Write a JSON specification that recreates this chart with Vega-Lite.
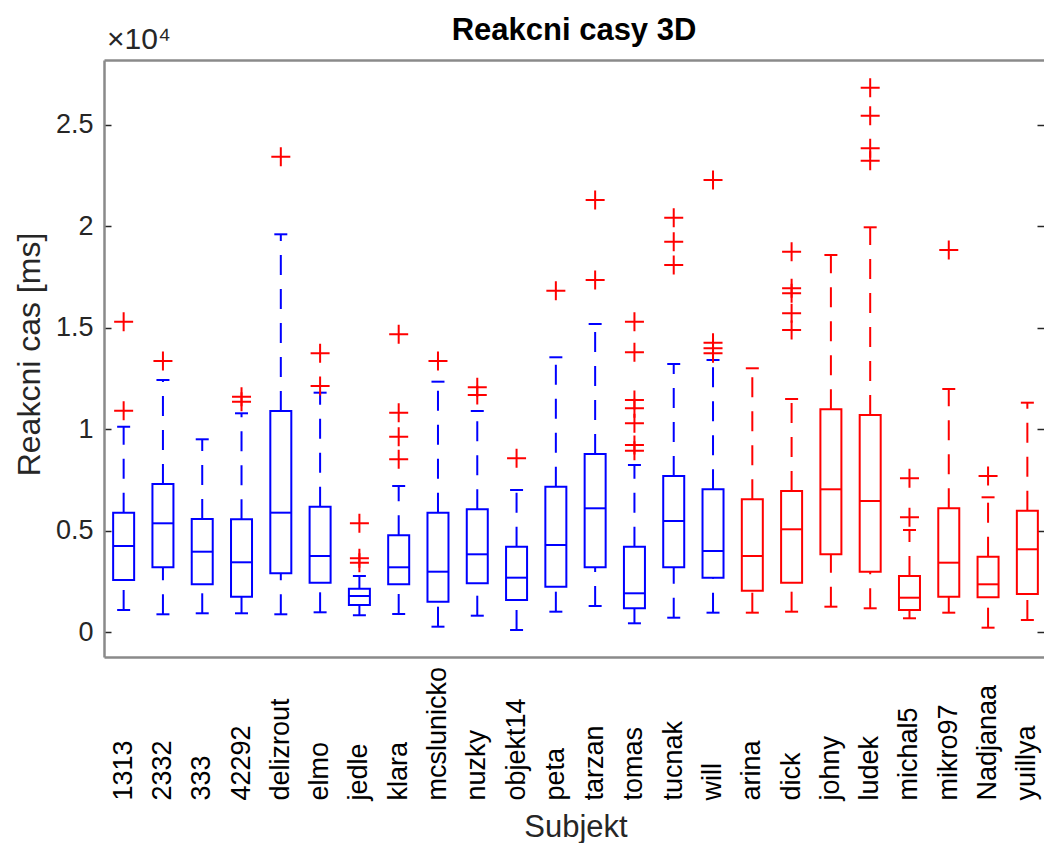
{
  "$schema": "https://vega.github.io/schema/vega-lite/v6.json",
  "width": 940,
  "height": 597,
  "autosize": {"type": "none"},
  "padding": {"left": 104, "top": 60, "right": 0, "bottom": 186},
  "background": "white",
  "config": {"view": {"stroke": null}, "font": "Liberation Sans"},
  "title": {"text": "Reakcni casy 3D", "fontSize": 31, "fontWeight": "bold", "color": "#000000", "anchor": "middle", "baseline": "alphabetic", "offset": -46, "font": "Liberation Sans"},
  "datasets": {
    "boxes": [
      {"s": "1313", "g": "A", "lo": 1099, "q1": 2576, "med": 4251, "q3": 5892, "hi": 10128},
      {"s": "2332", "g": "A", "lo": 887, "q1": 3202, "med": 5369, "q3": 7305, "hi": 12428},
      {"s": "333", "g": "A", "lo": 936, "q1": 2364, "med": 3970, "q3": 5581, "hi": 9507},
      {"s": "42292", "g": "A", "lo": 936, "q1": 1754, "med": 3448, "q3": 5566, "hi": 10788},
      {"s": "delizrout", "g": "A", "lo": 887, "q1": 2906, "med": 5892, "q3": 10901, "hi": 19605},
      {"s": "elmo", "g": "A", "lo": 985, "q1": 2443, "med": 3759, "q3": 6187, "hi": 11803},
      {"s": "jedle", "g": "A", "lo": 837, "q1": 1345, "med": 1788, "q3": 2148, "hi": 2773},
      {"s": "klara", "g": "A", "lo": 901, "q1": 2364, "med": 3202, "q3": 4778, "hi": 7207},
      {"s": "mcslunicko", "g": "A", "lo": 276, "q1": 1507, "med": 2985, "q3": 5892, "hi": 12345},
      {"s": "nuzky", "g": "A", "lo": 818, "q1": 2414, "med": 3842, "q3": 6059, "hi": 10901},
      {"s": "objekt14", "g": "A", "lo": 113, "q1": 1591, "med": 2690, "q3": 4217, "hi": 7010},
      {"s": "peta", "g": "A", "lo": 1015, "q1": 2246, "med": 4300, "q3": 7172, "hi": 13547},
      {"s": "tarzan", "g": "A", "lo": 1296, "q1": 3202, "med": 6108, "q3": 8783, "hi": 15187},
      {"s": "tomas", "g": "A", "lo": 443, "q1": 1182, "med": 1921, "q3": 4217, "hi": 8241},
      {"s": "tucnak", "g": "A", "lo": 719, "q1": 3202, "med": 5483, "q3": 7699, "hi": 13217},
      {"s": "will", "g": "A", "lo": 966, "q1": 2690, "med": 4005, "q3": 7044, "hi": 13413},
      {"s": "arina", "g": "B", "lo": 966, "q1": 2049, "med": 3759, "q3": 6552, "hi": 13005},
      {"s": "dick", "g": "B", "lo": 1015, "q1": 2443, "med": 5074, "q3": 6960, "hi": 11492},
      {"s": "johny", "g": "B", "lo": 1261, "q1": 3842, "med": 7044, "q3": 10985, "hi": 18586},
      {"s": "ludek", "g": "B", "lo": 1182, "q1": 2985, "med": 6468, "q3": 10704, "hi": 19950},
      {"s": "michal5", "g": "B", "lo": 690, "q1": 1099, "med": 1704, "q3": 2773, "hi": 5039},
      {"s": "mikro97", "g": "B", "lo": 966, "q1": 1754, "med": 3429, "q3": 6108, "hi": 11985},
      {"s": "Nadjanaa", "g": "B", "lo": 227, "q1": 1724, "med": 2364, "q3": 3724, "hi": 6650},
      {"s": "yuillya", "g": "B", "lo": 606, "q1": 1887, "med": 4089, "q3": 5990, "hi": 11310}
    ],
    "outliers": [
      {"s": "1313", "v": 15300}, {"s": "1313", "v": 10916},
      {"s": "2332", "v": 13364},
      {"s": "42292", "v": 11606}, {"s": "42292", "v": 11359},
      {"s": "delizrout", "v": 23428},
      {"s": "elmo", "v": 13744}, {"s": "elmo", "v": 12133},
      {"s": "jedle", "v": 5369}, {"s": "jedle", "v": 3645}, {"s": "jedle", "v": 3429},
      {"s": "klara", "v": 14679}, {"s": "klara", "v": 10818}, {"s": "klara", "v": 9635}, {"s": "klara", "v": 8522},
      {"s": "mcslunicko", "v": 13364},
      {"s": "nuzky", "v": 12069}, {"s": "nuzky", "v": 11689},
      {"s": "objekt14", "v": 8571},
      {"s": "peta", "v": 16827},
      {"s": "tarzan", "v": 21295}, {"s": "tarzan", "v": 17354},
      {"s": "tomas", "v": 15300}, {"s": "tomas", "v": 13793}, {"s": "tomas", "v": 11443}, {"s": "tomas", "v": 11034}, {"s": "tomas", "v": 10295}, {"s": "tomas", "v": 9226}, {"s": "tomas", "v": 8946},
      {"s": "tucnak", "v": 20424}, {"s": "tucnak", "v": 19241}, {"s": "tucnak", "v": 18093},
      {"s": "will", "v": 22280}, {"s": "will", "v": 14266}, {"s": "will", "v": 13990}, {"s": "will", "v": 13744},
      {"s": "dick", "v": 18748}, {"s": "dick", "v": 16945}, {"s": "dick", "v": 16699}, {"s": "dick", "v": 15714}, {"s": "dick", "v": 14891},
      {"s": "ludek", "v": 26827}, {"s": "ludek", "v": 25448}, {"s": "ludek", "v": 23842}, {"s": "ludek", "v": 23231},
      {"s": "michal5", "v": 7586}, {"s": "michal5", "v": 5665},
      {"s": "mikro97", "v": 18832},
      {"s": "Nadjanaa", "v": 7699}
    ],
    "note": [{"t": "×10⁴"}]
  },
  "layer": [
    {
      "data": {"name": "boxes"},
      "mark": {"type": "rule", "strokeWidth": 2, "strokeDash": [20, 14], "strokeCap": "butt", "opacity": 1},
      "encoding": {
        "x": {"field": "s", "type": "nominal", "sort": null,
          "scale": {"domain": ["1313","2332","333","42292","delizrout","elmo","jedle","klara","mcslunicko","nuzky","objekt14","peta","tarzan","tomas","tucnak","will","arina","dick","johny","ludek","michal5","mikro97","Nadjanaa","yuillya"], "paddingInner": 0, "paddingOuter": 0, "rangeMax": 943},
          "axis": {"orient": "bottom", "title": "Subjekt", "labelAngle": 270, "labelAlign": "left", "labelBaseline": "middle", "labelPadding": 143, "labelFontSize": 27, "labelColor": "#000000", "labelOverlap": false, "labelFont": "Liberation Sans", "ticks": false, "domainColor": "#8a8a8a", "domainWidth": 2.5, "grid": false, "titleFontSize": 31, "titleFontWeight": "normal", "titleColor": "#262626", "titleFont": "Liberation Sans", "titleY": 179, "titleBaseline": "alphabetic"}},
        "y": {"field": "q3", "type": "quantitative",
          "scale": {"domain": [-1217, 28191], "nice": false, "zero": false},
          "axis": {"orient": "left", "values": [0, 5000, 10000, 15000, 20000, 25000], "labelExpr": "datum.value / 10000 + ''", "labelFontSize": 27, "labelColor": "#262626", "labelFont": "Liberation Sans", "tickSize": -7, "tickColor": "#262626", "tickWidth": 1.5, "labelPadding": 18, "domainColor": "#8a8a8a", "domainWidth": 2.5, "grid": false, "title": "Reakcni cas [ms]", "titleFontSize": 32, "titleFontWeight": "normal", "titleColor": "#262626", "titleFont": "Liberation Sans", "titleX": -75, "titleY": 294, "titleAngle": 270, "titleAlign": "center", "titleBaseline": "middle"}},
        "y2": {"field": "hi"},
        "color": {"field": "g", "type": "nominal", "scale": {"domain": ["A", "B"], "range": ["#0000ff", "#ff0000"]}, "legend": null}
      }
    },
    {
      "data": {"name": "boxes"},
      "mark": {"type": "rule", "strokeWidth": 2, "strokeDash": [20, 14], "strokeCap": "butt", "opacity": 1},
      "encoding": {
        "x": {"field": "s", "type": "nominal", "sort": null,
          "axis": {"orient": "top", "labels": false, "ticks": false, "domain": true, "domainColor": "#8a8a8a", "domainWidth": 2.5, "grid": false, "title": null}},
        "y": {"field": "lo", "type": "quantitative",
          "axis": {"orient": "right", "labels": false, "values": [0, 5000, 10000, 15000, 20000, 25000], "tickSize": -7, "tickColor": "#262626", "tickWidth": 1.5, "domain": false, "grid": false, "title": null}},
        "y2": {"field": "q1"},
        "color": {"field": "g", "type": "nominal", "legend": null}
      }
    },
    {
      "data": {"name": "boxes"},
      "mark": {"type": "tick", "thickness": 2, "size": 13, "opacity": 1},
      "encoding": {
        "x": {"field": "s", "type": "nominal", "sort": null, "axis": null},
        "y": {"field": "hi", "type": "quantitative", "axis": null},
        "color": {"field": "g", "type": "nominal", "legend": null}
      }
    },
    {
      "data": {"name": "boxes"},
      "mark": {"type": "tick", "thickness": 2, "size": 13, "opacity": 1},
      "encoding": {
        "x": {"field": "s", "type": "nominal", "sort": null, "axis": null},
        "y": {"field": "lo", "type": "quantitative", "axis": null},
        "color": {"field": "g", "type": "nominal", "legend": null}
      }
    },
    {
      "data": {"name": "boxes"},
      "mark": {"type": "bar", "filled": false, "strokeWidth": 2, "width": 21, "opacity": 1},
      "encoding": {
        "x": {"field": "s", "type": "nominal", "sort": null, "axis": null},
        "y": {"field": "q1", "type": "quantitative", "axis": null},
        "y2": {"field": "q3"},
        "color": {"field": "g", "type": "nominal", "legend": null}
      }
    },
    {
      "data": {"name": "boxes"},
      "mark": {"type": "tick", "thickness": 2, "size": 21, "opacity": 1},
      "encoding": {
        "x": {"field": "s", "type": "nominal", "sort": null, "axis": null},
        "y": {"field": "med", "type": "quantitative", "axis": null},
        "color": {"field": "g", "type": "nominal", "legend": null}
      }
    },
    {
      "data": {"name": "outliers"},
      "mark": {"type": "point", "shape": "M-1,0H1M0,-1V1", "filled": false, "size": 361, "strokeWidth": 2, "color": "#ff0000", "opacity": 1},
      "encoding": {
        "x": {"field": "s", "type": "nominal", "sort": null, "axis": null},
        "y": {"field": "v", "type": "quantitative", "axis": null}
      }
    },
    {
      "data": {"name": "note"},
      "mark": {"type": "text", "align": "left", "baseline": "bottom", "dx": 3, "dy": -5, "fontSize": 30, "color": "#262626", "font": "Liberation Sans"},
      "encoding": {
        "x": {"datum": "1313", "type": "nominal", "bandPosition": 0, "axis": null},
        "y": {"datum": 28191, "type": "quantitative", "axis": null},
        "text": {"field": "t"}
      }
    }
  ],
  "resolve": {"axis": {"x": "independent", "y": "independent"}}
}
